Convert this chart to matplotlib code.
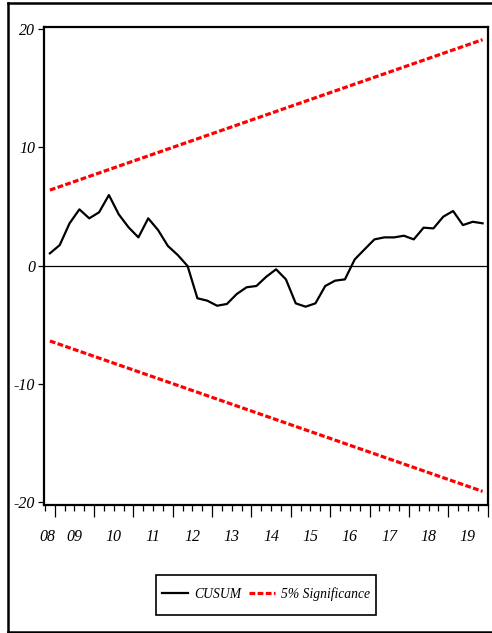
import matplotlib
matplotlib.use("Agg")
import matplotlib.pyplot as plt
from matplotlib.lines import Line2D
from matplotlib.patches import Rectangle
import numpy as np

# ---- data (quarterly, 2008Q4 .. 2019Q4) ----
cusum = [1.03, 1.73, 3.57, 4.75, 3.99, 4.50, 5.96, 4.33, 3.23, 2.38,
         3.99, 3.00, 1.65, 0.89, -0.04, -2.77, -2.97, -3.40, -3.25, -2.41,
         -1.84, -1.73, -0.95, -0.32, -1.17, -3.20, -3.48, -3.20, -1.73, -1.28,
         -1.17, 0.52, 1.37, 2.21, 2.38, 2.38, 2.52, 2.21, 3.20, 3.14,
         4.13, 4.61, 3.42, 3.70, 3.57]
bound_upper = [6.38, 19.10]   # straight 5% line: first and last observation
bound_lower = [-6.38, -19.10]
year_labels = ["08", "09", "10", "11", "12", "13", "14", "15", "16", "17", "18", "19"]
ytick_values = [20, 10, 0, -10, -20]
ytick_labels = ["20", "10", "0", "-10", "-20"]
legend_labels = ["CUSUM", "5% Significance"]

W, H = 492, 633
fig = plt.figure(figsize=(W / 100, H / 100), dpi=100)
serif = ["Liberation Serif", "DejaVu Serif"]

ax = fig.add_axes([44 / W, (H - 505) / H, 444 / W, 478 / H])

x = np.arange(len(cusum))
xb = [x[0], x[-1]]
ax.axhline(0, color="black", lw=0.9, zorder=1)
l1, = ax.plot(x, cusum, color="black", lw=1.6, zorder=3)
dash = (1.8, 0.75)
l2, = ax.plot(xb, bound_upper, color="#ff0000", lw=2.3, linestyle=(0, dash), zorder=2)
ax.plot(xb, bound_lower, color="#ff0000", lw=2.3, linestyle=(0, dash), zorder=2)

ax.set_xlim(-0.6, len(cusum) - 0.45)
ax.set_ylim(-20.25, 20.17)

for s in ax.spines.values():
    s.set_linewidth(1.6)

ax.set_yticks(ytick_values)
ax.set_yticklabels(ytick_labels, fontfamily=serif, fontstyle="italic", fontsize=11.5)
ax.tick_params(axis="y", direction="out", length=4.5, width=0.9, pad=2)

# x axis: long ticks at year boundaries, short ticks at quarter boundaries
n = len(cusum)
quarter_edges = np.arange(-0.5, n, 1.0)
year_edges = quarter_edges[1::4]
ax.set_xticks(year_edges)
ax.set_xticklabels([])
ax.set_xticks(quarter_edges, minor=True)
ax.tick_params(axis="x", which="major", direction="out", length=8.5, width=0.9)
ax.tick_params(axis="x", which="minor", direction="out", length=4.3, width=0.9)

label_pos = [-0.25] + list(year_edges[:-1] + 2.0)
for pos, lab in zip(label_pos, year_labels):
    ax.text(pos, -0.067, lab, transform=ax.get_xaxis_transform(),
            ha="center", va="center", fontfamily=serif, fontstyle="italic",
            fontsize=11.5)

# legend
fig.patches.append(Rectangle((156 / W, (H - 615) / H), 220 / W, 40 / H,
                             transform=fig.transFigure, fill=False,
                             edgecolor="black", lw=1.2))
fig.legend([l1, l2], legend_labels, loc="center",
           bbox_to_anchor=(266 / W, (H - 594) / H), ncol=2, frameon=False,
           prop={"family": serif, "style": "italic", "size": 9.8},
           handlelength=1.9, handletextpad=0.45, columnspacing=0.6,
           borderpad=0.2)

# outer frame (left, top, bottom; right side cropped)
fl = 7.5 / W
fig.add_artist(Line2D([fl, fl], [1.5 / H, 1 - 2.5 / H], transform=fig.transFigure,
                      color="black", lw=1.8))
fig.add_artist(Line2D([fl, 1], [1 - 2.5 / H, 1 - 2.5 / H], transform=fig.transFigure,
                      color="black", lw=1.8))
fig.add_artist(Line2D([fl, 1], [1.5 / H, 1.5 / H], transform=fig.transFigure,
                      color="black", lw=1.8))

fig.savefig("out.png", dpi=100)
